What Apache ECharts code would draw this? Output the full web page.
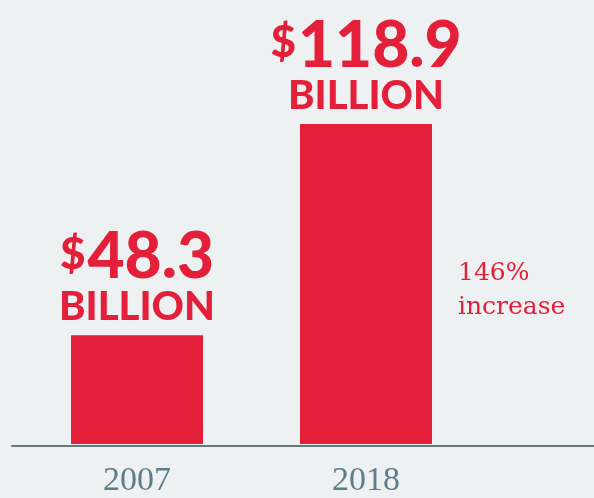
<!DOCTYPE html>
<html>
<head>
<meta charset="utf-8">
<script src="https://cdn.jsdelivr.net/npm/echarts@6/dist/echarts.min.js"></script>
<style>
html,body{margin:0;padding:0;background:#edf1f2;}
#chart{width:594px;height:498px;}
</style>
</head>
<body>
<div id="chart"></div>
<script>
const categories = ['2007', '2018'];
const values = [48.3, 118.9];
const valueUnit = 'BILLION';
const noteLines = ['146%', 'increase'];

const RED = '#e31f3a';
const chart = echarts.init(document.getElementById('chart'));
chart.setOption({
  backgroundColor: '#edf1f2',
  animation: false,
  grid: [
    {left: 22.5, right: 113.5, top: 1, bottom: 52},
    {left: 12, right: 0, top: 1, bottom: 52}
  ],
  xAxis: [
    {
      type: 'category', gridIndex: 0, data: categories,
      axisLine: {show: false}, axisTick: {show: false},
      axisLabel: {margin: 20, fontFamily: 'Liberation Serif', fontSize: 34, color: '#5f7c8a'}
    },
    {
      type: 'category', gridIndex: 1, data: [''],
      axisLine: {show: true, lineStyle: {color: '#66767b', width: 2}},
      axisTick: {show: false}, axisLabel: {show: false}
    }
  ],
  yAxis: [
    {type: 'value', gridIndex: 0, min: 12, max: 160, show: false},
    {type: 'value', gridIndex: 1, min: 0, max: 1, show: false}
  ],
  series: [{
    type: 'bar',
    xAxisIndex: 0, yAxisIndex: 0,
    data: values,
    barWidth: 132,
    itemStyle: {color: RED},
    z: 1,
    label: {
      show: true,
      position: 'top',
      distance: 8,
      formatter: p => '{d|$}{n|' + p.value.toFixed(1) + '}\n{b|' + valueUnit + '}',
      rich: {
        d: {fontFamily: 'Lato', fontWeight: 900, fontSize: 44, color: RED, verticalAlign: 'top', lineHeight: 46, padding: [5, 2, 0, 0]},
        n: {fontFamily: 'Lato', fontWeight: 900, fontSize: 64, color: RED, lineHeight: 60},
        b: {fontFamily: 'Lato', fontWeight: 900, fontSize: 40, color: RED, lineHeight: 40}
      }
    }
  }],
  graphic: [{
    type: 'text',
    left: 458, top: 256,
    style: {
      text: noteLines.join('\n'),
      fontFamily: 'DejaVu Serif', fontSize: 25, lineHeight: 34,
      fill: RED
    }
  }]
});
</script>
</body>
</html>
